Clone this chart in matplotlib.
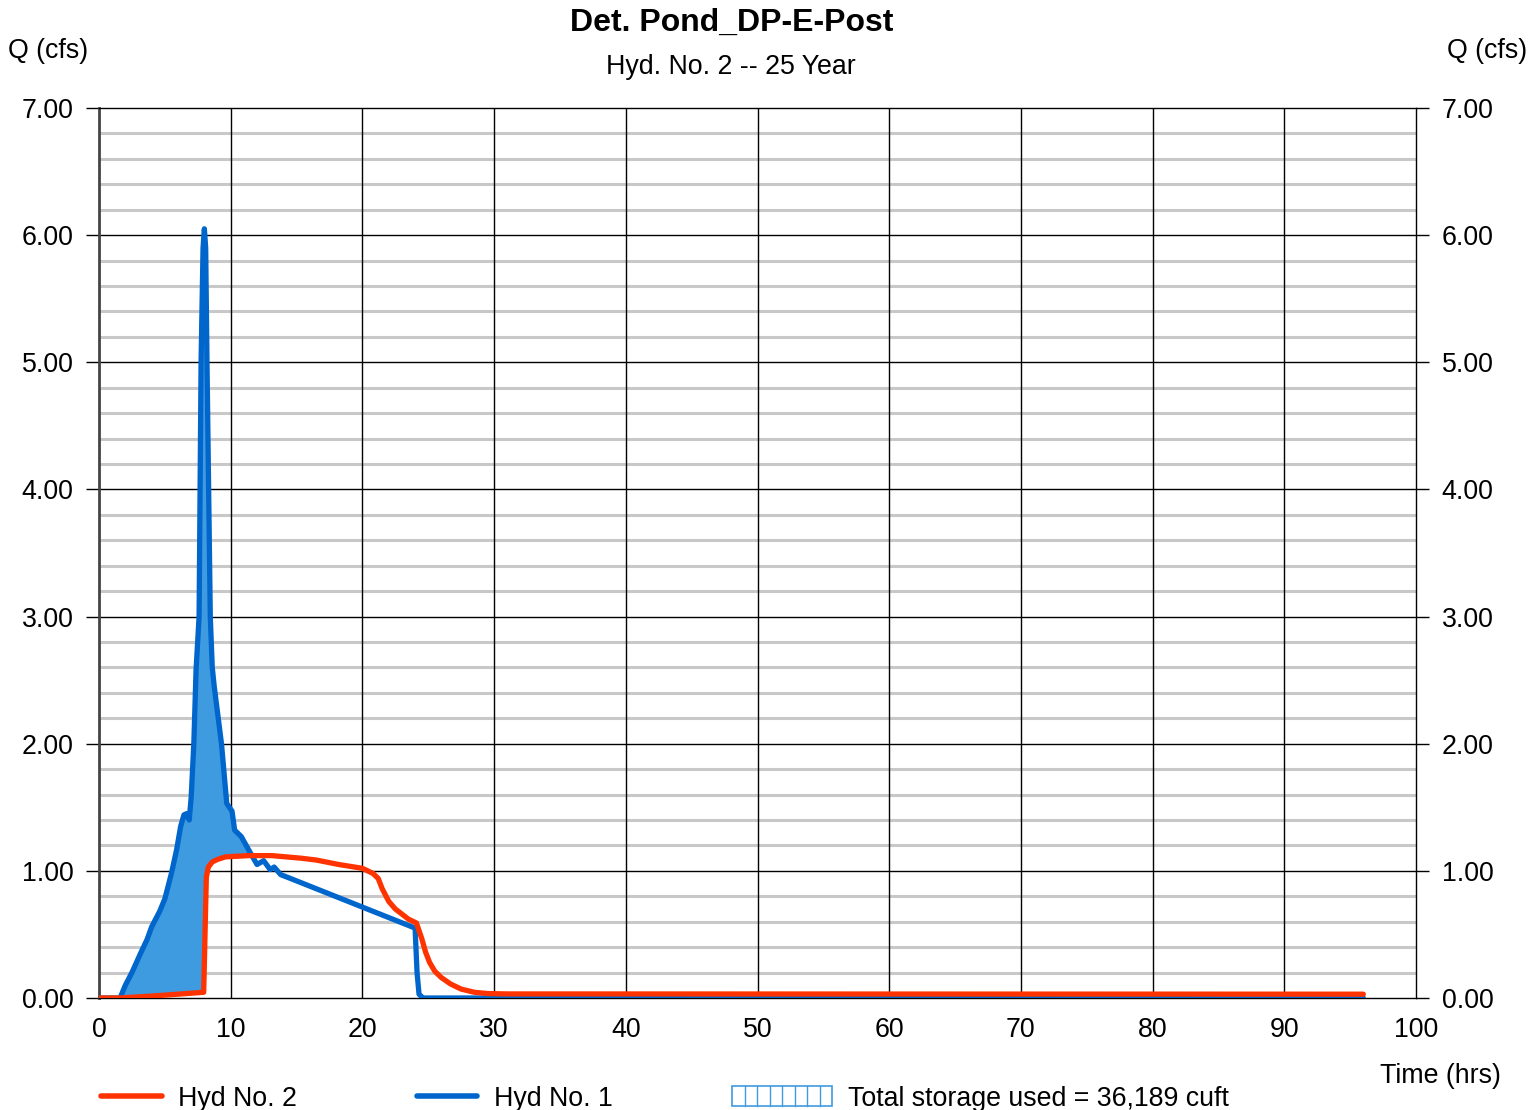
import numpy as np
import matplotlib
matplotlib.use("Agg")
import matplotlib.pyplot as plt
from matplotlib.lines import Line2D
from matplotlib.patches import Rectangle

plt.rcParams['font.family'] = ['Liberation Sans', 'DejaVu Sans']

# Inflow hydrograph (Hyd No. 1)
inflow_t = [0, 1.6, 2.0, 2.5, 3.15, 3.65, 4.0, 4.6, 5.0, 5.5, 5.9, 6.2, 6.45, 6.65,
            6.85, 7.0, 7.2, 7.37, 7.6, 7.75, 7.9, 8.0, 8.1, 8.2, 8.45, 8.6, 8.75,
            9.3, 9.7, 10.1, 10.3, 10.8, 11.5, 12.0, 12.5, 13.0, 13.3, 13.8, 14.3,
            24.0, 24.15, 24.3, 24.6, 96.0]
inflow_q = [0, 0, 0.1, 0.2, 0.35, 0.46, 0.56, 0.68, 0.78, 0.98, 1.17, 1.35, 1.44, 1.45,
            1.40, 1.58, 2.0, 2.58, 3.0, 5.0, 5.9, 6.05, 5.9, 5.0, 3.0, 2.6, 2.45,
            2.0, 1.53, 1.47, 1.32, 1.27, 1.14, 1.05, 1.08, 1.01, 1.03, 0.97, 0.95,
            0.55, 0.2, 0.03, 0.0, 0.0]

# Outflow hydrograph (Hyd No. 2)
outflow_t = [0, 1.5, 4.0, 6.0, 7.95, 8.05, 8.15, 8.3, 8.6, 9.0, 9.6, 11.4, 13.1, 15.3,
             16.5, 18.2, 20.0, 20.8, 21.2, 21.5, 22.0, 22.5, 23.0, 23.5, 24.1, 24.5,
             24.8, 25.1, 25.5, 26.0, 26.7, 27.5, 28.5, 29.5, 31.0, 96.0]
outflow_q = [0, 0.0, 0.015, 0.03, 0.045, 0.5, 0.95, 1.03, 1.07, 1.09, 1.11, 1.12, 1.12, 1.10,
             1.085, 1.05, 1.02, 0.98, 0.94, 0.86, 0.76, 0.70, 0.66, 0.62, 0.59, 0.47,
             0.36, 0.28, 0.21, 0.16, 0.11, 0.07, 0.045, 0.035, 0.032, 0.03]

title = "Det. Pond_DP-E-Post"
subtitle = "Hyd. No. 2 -- 25 Year"
storage_label = "Total storage used = 36,189 cuft"

x_ticks = list(range(0, 101, 10))
y_ticks = [0, 1, 2, 3, 4, 5, 6, 7]
y_tick_labels = [f"{v:.2f}" for v in y_ticks]

RED = "#ff3300"
BLUE = "#0066cc"
FILL = "#3f9be0"
FS = 19.3

W, H = 1533, 1110
fig = plt.figure(figsize=(W / 100, H / 100), dpi=100)
ax = fig.add_axes([99 / W, 1 - 998 / H, (1416 - 99) / W, (998 - 108) / H])

ax.set_xlim(0, 100)
ax.set_ylim(0, 7)

# grid: light minor rules every 0.2, dark major rules
for v in np.arange(0.2, 7.0, 0.2):
    if abs(v - round(v)) > 1e-6:
        ax.axhline(v, color="#c8c8c8", lw=2.2, zorder=0)
for v in y_ticks[1:-1]:
    ax.axhline(v, color="black", lw=1.0, zorder=0.5)
for v in x_ticks[1:-1]:
    ax.axvline(v, color="black", lw=1.0, zorder=0.5)

# storage area between inflow and outflow
grid_t = np.union1d(inflow_t, outflow_t)
qi = np.interp(grid_t, inflow_t, inflow_q)
qo = np.interp(grid_t, outflow_t, outflow_q)
ax.fill_between(grid_t, qo, qi, where=qi > qo, interpolate=True,
                color=FILL, lw=0, zorder=1)

ax.plot(inflow_t, inflow_q, color=BLUE, lw=3.8, solid_capstyle="round",
        solid_joinstyle="round", zorder=3)
ax.plot(outflow_t, outflow_q, color=RED, lw=3.8, solid_capstyle="round",
        solid_joinstyle="round", zorder=4)

# axes frame and ticks
for side in ["top", "bottom", "right"]:
    ax.spines[side].set_linewidth(1.0)
    ax.spines[side].set_color("black")
ax.spines["left"].set_linewidth(2.0)
ax.spines["left"].set_color("#444444")

ax.set_xticks(x_ticks)
ax.set_xticklabels([str(v) for v in x_ticks])
ax.set_yticks(y_ticks)
ax.set_yticklabels(y_tick_labels)
ax.tick_params(axis="x", length=0, pad=13.5, labelsize=FS)
ax.tick_params(axis="y", which="major", direction="out", length=9.4, width=1.0,
               labelsize=FS, pad=9, left=True, right=True,
               labelleft=True, labelright=True)

# titles and axis captions
fig.text(732 / W, 1 - 23 / H, title, ha="center", va="center",
         fontsize=23, fontweight="bold")
fig.text(731 / W, 1 - 67 / H, subtitle, ha="center", va="center", fontsize=FS)
fig.text(8 / W, 1 - 51 / H, "Q (cfs)", ha="left", va="center", fontsize=FS)
fig.text(1527 / W, 1 - 51 / H, "Q (cfs)", ha="right", va="center", fontsize=FS)
fig.text(1501 / W, 1 - 1076 / H, "Time (hrs)", ha="right", va="center", fontsize=FS)

# legend row
ly_px = 1096
ly = 1 - ly_px / H
lt = 1 - (ly_px + 3) / H
fig.add_artist(Line2D([101 / W, 162 / W], [ly, ly], color=RED, lw=4,
                      solid_capstyle="round"))
fig.text(178 / W, lt, "Hyd No. 2", ha="left", va="center", fontsize=FS)
fig.add_artist(Line2D([417 / W, 477 / W], [ly, ly], color=BLUE, lw=4,
                      solid_capstyle="round"))
fig.text(494 / W, lt, "Hyd No. 1", ha="left", va="center", fontsize=FS)
bx0, bx1, by0, by1 = 732, 832, 1086, 1106
fig.add_artist(Rectangle((bx0 / W, 1 - by1 / H), (bx1 - bx0) / W, (by1 - by0) / H,
                         facecolor="white", edgecolor=FILL, lw=1.2))
for px in np.linspace(bx0, bx1, 9)[1:-1]:
    fig.add_artist(Line2D([px / W, px / W], [1 - by1 / H, 1 - by0 / H],
                          color=FILL, lw=1.0))
fig.text(848 / W, lt, storage_label, ha="left", va="center", fontsize=FS)

fig.savefig("out.png", dpi=100)
